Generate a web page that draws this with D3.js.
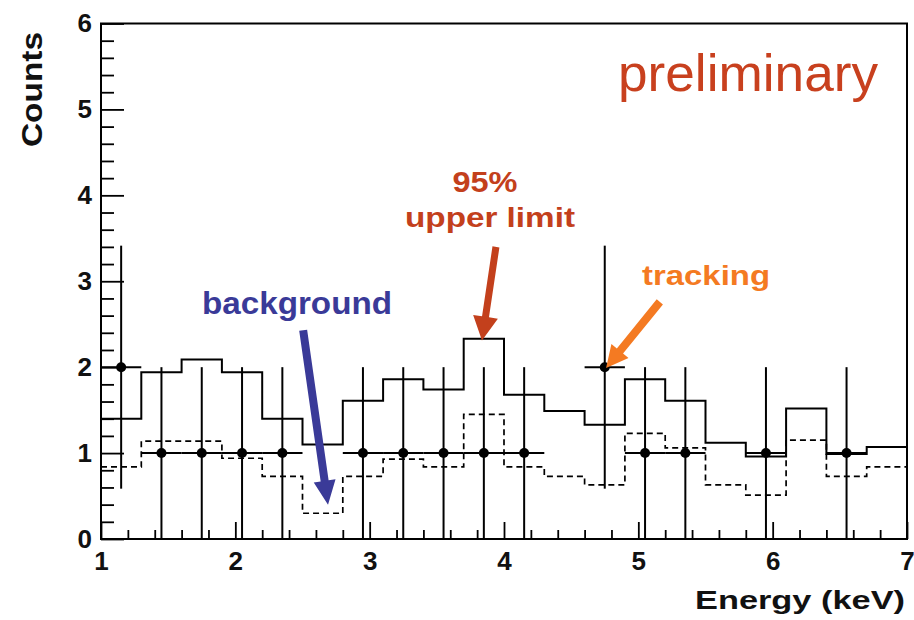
<!DOCTYPE html>
<html>
<head>
<meta charset="utf-8">
<script src="https://cdn.jsdelivr.net/npm/d3@7"></script>
<style>
  html, body { margin: 0; padding: 0; background: #fff; }
  svg { display: block; }
  text { font-family: "Liberation Sans", Arial, Helvetica, sans-serif; }
</style>
</head>
<body>
<svg id="chart" width="914" height="620"></svg>
<script>
// Energy bins (keV): 0.3 keV wide, from 1.0 to 7.0
const binLow = [1.0, 1.3, 1.6, 1.9, 2.2, 2.5, 2.8, 3.1, 3.4, 3.7,
                4.0, 4.3, 4.6, 4.9, 5.2, 5.5, 5.8, 6.1, 6.4, 6.7];
const binWidth = 0.3;

// Tracking counts per bin
const trackingCounts = [2, 1, 1, 1, 1, 0, 1, 1, 1, 1,
                        1, 0, 2, 1, 1, 0, 1, 0, 1, 0];

// 95% upper limit (solid histogram)
const upperLimit = [1.40, 1.94, 2.09, 1.94, 1.40, 1.10, 1.61, 1.86, 1.74, 2.33,
                    1.68, 1.49, 1.33, 1.86, 1.61, 1.12, 0.96, 1.52, 0.99, 1.07];

// Expected background (dashed histogram)
const background = [0.84, 1.14, 1.14, 0.94, 0.73, 0.30, 0.73, 0.93, 0.84, 1.45,
                    0.84, 0.73, 0.63, 1.23, 1.06, 0.63, 0.51, 1.15, 0.73, 0.84];

const xTicks = [1, 2, 3, 4, 5, 6, 7];
const yTicks = [0, 1, 2, 3, 4, 5, 6];

const svg = d3.select("#chart");
const plotL = 101, plotR = 907, plotT = 23.5, plotB = 539;

const x = d3.scaleLinear().domain([1, 7]).range([plotL, plotR]);
const y = d3.scaleLinear().domain([0, 6]).range([plotB, plotT]);

// ---- axes: minor ticks first, then major ticks with labels ----
const xMinor = d3.range(1, 7.001, 0.2).map(v => +v.toFixed(1)).filter(v => !xTicks.includes(v));
const yMinor = d3.range(0, 6.001, 0.2).map(v => +v.toFixed(1)).filter(v => !yTicks.includes(v));

function styleAxis(g) {
  g.select(".domain").remove();
  g.selectAll(".tick line").attr("stroke", "#000").attr("stroke-width", 1.8);
  g.selectAll(".tick text")
    .attr("fill", "#111")
    .style("font-size", "26px")
    .style("font-weight", "bold");
}

svg.append("g").attr("transform", `translate(0,${plotB})`)
  .call(d3.axisBottom(x).tickValues(xMinor).tickSizeInner(-9).tickSizeOuter(0).tickFormat(""))
  .call(styleAxis);
svg.append("g").attr("transform", `translate(0,${plotB})`)
  .call(d3.axisBottom(x).tickValues(xTicks).tickSizeInner(-17).tickSizeOuter(0)
        .tickPadding(13).tickFormat(d3.format("d")))
  .call(styleAxis);

svg.append("g").attr("transform", `translate(${plotL},0)`)
  .call(d3.axisLeft(y).tickValues(yMinor).tickSizeInner(-13).tickSizeOuter(0).tickFormat(""))
  .call(styleAxis);
svg.append("g").attr("transform", `translate(${plotL},0)`)
  .call(d3.axisLeft(y).tickValues(yTicks).tickSizeInner(-23).tickSizeOuter(0)
        .tickPadding(9).tickFormat(d3.format("d")))
  .call(styleAxis);

// frame
svg.append("rect")
  .attr("x", plotL).attr("y", plotT)
  .attr("width", plotR - plotL).attr("height", plotB - plotT)
  .attr("fill", "none").attr("stroke", "#000").attr("stroke-width", 2);

// ---- step histograms ----
function stepPoints(values) {
  const pts = values.map((v, i) => [binLow[i], v]);
  pts.push([binLow[binLow.length - 1] + binWidth, values[values.length - 1]]);
  return pts;
}
const stepLine = d3.line()
  .x(d => x(d[0])).y(d => y(d[1]))
  .curve(d3.curveStepAfter);

svg.append("path")
  .attr("d", stepLine(stepPoints(background)))
  .attr("fill", "none").attr("stroke", "#000")
  .attr("stroke-width", 1.7).attr("stroke-dasharray", "6,4");

svg.append("path")
  .attr("d", stepLine(stepPoints(upperLimit)))
  .attr("fill", "none").attr("stroke", "#000").attr("stroke-width", 2);

// ---- tracking data points with error bars ----
const pts = trackingCounts
  .map((c, i) => ({ e: binLow[i] + binWidth / 2, c }))
  .filter(d => d.c > 0);

const eb = svg.append("g").attr("stroke", "#000").attr("stroke-width", 2);
eb.selectAll("line.h").data(pts).join("line")
  .attr("class", "h")
  .attr("x1", d => x(d.e - binWidth / 2)).attr("x2", d => x(d.e + binWidth / 2))
  .attr("y1", d => y(d.c)).attr("y2", d => y(d.c));
eb.selectAll("line.v").data(pts).join("line")
  .attr("class", "v")
  .attr("x1", d => x(d.e)).attr("x2", d => x(d.e))
  .attr("y1", d => y(d.c - Math.sqrt(d.c))).attr("y2", d => y(d.c + Math.sqrt(d.c)));
svg.append("g").selectAll("circle").data(pts).join("circle")
  .attr("cx", d => x(d.e)).attr("cy", d => y(d.c)).attr("r", 5).attr("fill", "#000");

// ---- axis titles ----
svg.append("text")
  .attr("transform", "translate(42,147) rotate(-90)")
  .attr("text-anchor", "start")
  .attr("textLength", 115).attr("lengthAdjust", "spacingAndGlyphs")
  .style("font-size", "30px").style("font-weight", "bold").attr("fill", "#111")
  .text("Counts");

svg.append("text")
  .attr("x", 695).attr("y", 609)
  .attr("textLength", 210).attr("lengthAdjust", "spacingAndGlyphs")
  .style("font-size", "25px").style("font-weight", "bold").attr("fill", "#111")
  .text("Energy (keV)");

svg.append("text")
  .attr("x", 618).attr("y", 91)
  .attr("textLength", 260).attr("lengthAdjust", "spacingAndGlyphs")
  .style("font-size", "52px").attr("fill", "#c8401e")
  .text("preliminary");

// ---- annotations with arrows (arrow ends given in data units) ----
function arrow(x1, y1, x2, y2, w, hl, hw, color) {
  const ax = x(x1), ay = y(y1), bx = x(x2), by = y(y2);
  const L = Math.hypot(bx - ax, by - ay);
  const ux = (bx - ax) / L, uy = (by - ay) / L;
  const nx = -uy, ny = ux;
  const cx = bx - ux * hl, cy = by - uy * hl;
  const p = [
    [ax + nx * w / 2, ay + ny * w / 2],
    [cx + nx * w / 2, cy + ny * w / 2],
    [cx + nx * hw / 2, cy + ny * hw / 2],
    [bx, by],
    [cx - nx * hw / 2, cy - ny * hw / 2],
    [cx - nx * w / 2, cy - ny * w / 2],
    [ax - nx * w / 2, ay - ny * w / 2]
  ];
  svg.append("path").attr("d", "M" + p.map(q => q.join(",")).join("L") + "Z")
    .attr("fill", color);
}

const blue = "#3a3a98", red = "#c3401c", orange = "#f47a22";

svg.append("text").attr("x", 202).attr("y", 314)
  .attr("textLength", 190).attr("lengthAdjust", "spacingAndGlyphs")
  .style("font-size", "31px").style("font-weight", "bold").attr("fill", blue)
  .text("background");
arrow(2.505, 2.43, 2.69, 0.40, 8, 24, 22, blue);

svg.append("text").attr("x", 485).attr("y", 192).attr("text-anchor", "middle")
  .attr("textLength", 65).attr("lengthAdjust", "spacingAndGlyphs")
  .style("font-size", "29px").style("font-weight", "bold").attr("fill", red)
  .text("95%");
svg.append("text").attr("x", 405).attr("y", 227)
  .attr("textLength", 170).attr("lengthAdjust", "spacingAndGlyphs")
  .style("font-size", "27px").style("font-weight", "bold").attr("fill", red)
  .text("upper limit");
arrow(3.94, 3.40, 3.836, 2.31, 7, 24, 25, red);

svg.append("text").attr("x", 642).attr("y", 285)
  .attr("textLength", 128).attr("lengthAdjust", "spacingAndGlyphs")
  .style("font-size", "28px").style("font-weight", "bold").attr("fill", orange)
  .text("tracking");
arrow(5.16, 2.76, 4.76, 1.99, 8, 22, 22, orange);
</script>
</body>
</html>
